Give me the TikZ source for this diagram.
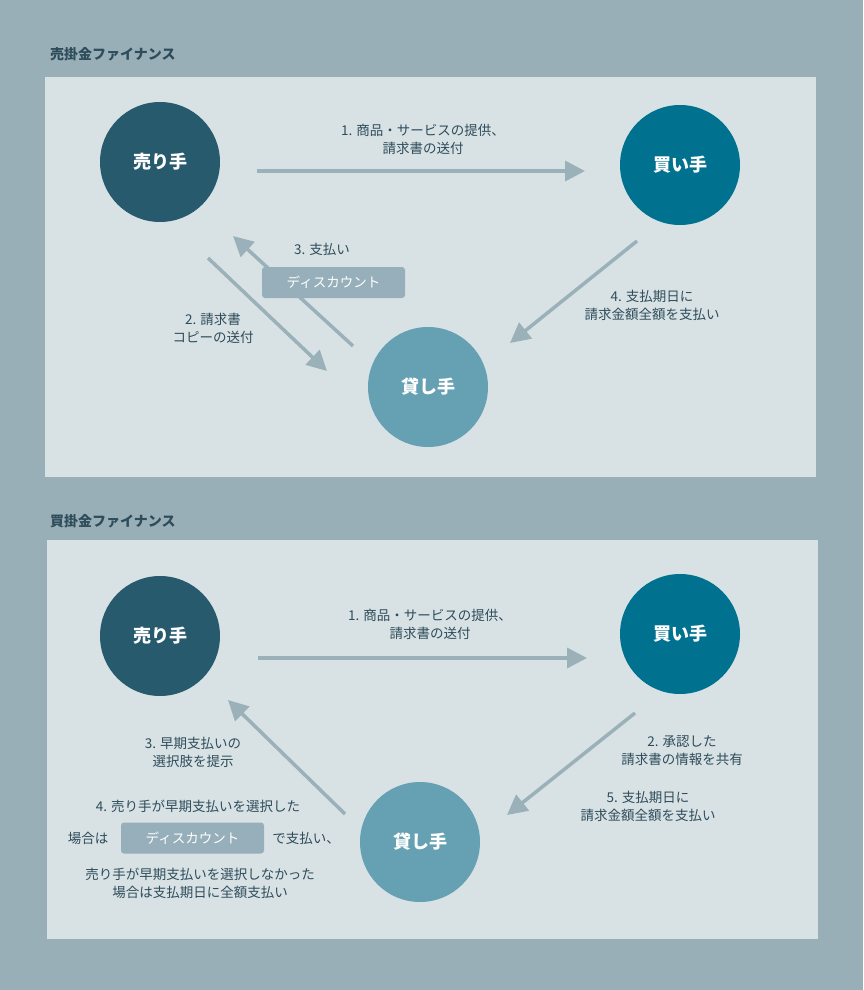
\documentclass[tikz,border=0pt]{standalone}
\usepackage{fontspec}
\setmainfont{Noto Sans CJK JP}
\usetikzlibrary{arrows.meta}
\definecolor{bg}{HTML}{98AFB8}
\definecolor{panel}{HTML}{D8E2E5}
\definecolor{cseller}{HTML}{275A6D}
\definecolor{cbuyer}{HTML}{00718F}
\definecolor{clender}{HTML}{66A0B3}
\definecolor{arr}{HTML}{9AB1B9}
\definecolor{txt}{HTML}{2E4C5A}
\definecolor{tag}{HTML}{96AFBA}
\tikzset{
 actor/.style={circle,minimum size=120pt,inner sep=0pt,text=white,font=\fontsize{18}{20}\selectfont\bfseries},
 flow/.style={draw=arr,line width=3.5pt,-{Triangle[length=20pt,width=20pt]}},
 lbl/.style={text=txt,font=\fontsize{13.5}{18}\selectfont,align=center,inner sep=0pt},
 tagbox/.style={fill=tag,rounded corners=3pt,text=white,minimum width=143pt,minimum height=31pt,font=\fontsize{13.5}{16}\selectfont,inner sep=0pt},
 ttl/.style={text=txt,font=\fontsize{14}{16}\selectfont\bfseries,anchor=west,inner sep=0pt}
}
\begin{document}
\begin{tikzpicture}[x=1pt,y=-1pt]
\fill[bg] (0,0) rectangle (863,990);
\useasboundingbox (0,0) rectangle (863,990);
% panel 1
\node[ttl] (t1) at (50,54) {売掛金ファイナンス};
\fill[panel] (45,77) rectangle (816,477);
\node[actor,fill=cseller] (s1) at (160,162) {売り手};
\node[actor,fill=cbuyer] (b1) at (680,165) {買い手};
\node[actor,fill=clender] (l1) at (428,387) {貸し手};
\coordinate (a1s) at (257,171); \coordinate (a1e) at (585,171);
\draw[flow] (a1s) -- (a1e);
\node[lbl] (m1) at (423,139) {1. 商品・サービスの提供、\\請求書の送付};
\coordinate (a2s) at (208,258); \coordinate (a2e) at (327,371);
\draw[flow] (a2s) -- (a2e);
\node[lbl] (m2) at (213,328) {2. 請求書\\コピーの送付};
\coordinate (a3s) at (353,346); \coordinate (a3e) at (233,236);
\draw[flow] (a3s) -- (a3e);
\node[lbl] (m3) at (322,249) {3. 支払い};
\node[tagbox] (d1) at (333.5,282.5) {ディスカウント};
\coordinate (a4s) at (637,241); \coordinate (a4e) at (510,343);
\draw[flow] (a4s) -- (a4e);
\node[lbl] (m4) at (652,305) {4. 支払期日に\\請求金額全額を支払い};
% panel 2
\node[ttl] (t2) at (50,521) {買掛金ファイナンス};
\fill[panel] (47,540) rectangle (818,939);
\node[actor,fill=cseller] (s2) at (160,636) {売り手};
\node[actor,fill=cbuyer] (b2) at (680,634) {買い手};
\node[actor,fill=clender] (l2) at (420,842) {貸し手};
\coordinate (c1s) at (258,658); \coordinate (c1e) at (587,658);
\draw[flow] (c1s) -- (c1e);
\node[lbl] (n1) at (430,624) {1. 商品・サービスの提供、\\請求書の送付};
\coordinate (c3s) at (345,814); \coordinate (c3e) at (228,700);
\draw[flow] (c3s) -- (c3e);
\node[lbl] (n3) at (193,752) {3. 早期支払いの\\選択肢を提示};
\coordinate (c2s) at (635,713); \coordinate (c2e) at (507,815);
\draw[flow] (c2s) -- (c2e);
\node[lbl] (n2) at (682,751) {2. 承認した\\請求書の情報を共有};
\node[lbl] (n5) at (648,806) {5. 支払期日に\\請求金額全額を支払い};
\node[lbl] (n4a) at (198,806) {4. 売り手が早期支払いを選択した};
\node[lbl] (n4b) at (88,838) {場合は};
\node[tagbox] (d2) at (192.5,838) {ディスカウント};
\node[lbl] (n4c) at (306,838) {で支払い、};
\node[lbl] (n4d) at (200,883) {売り手が早期支払いを選択しなかった\\場合は支払期日に全額支払い};
\end{tikzpicture}
\end{document}
